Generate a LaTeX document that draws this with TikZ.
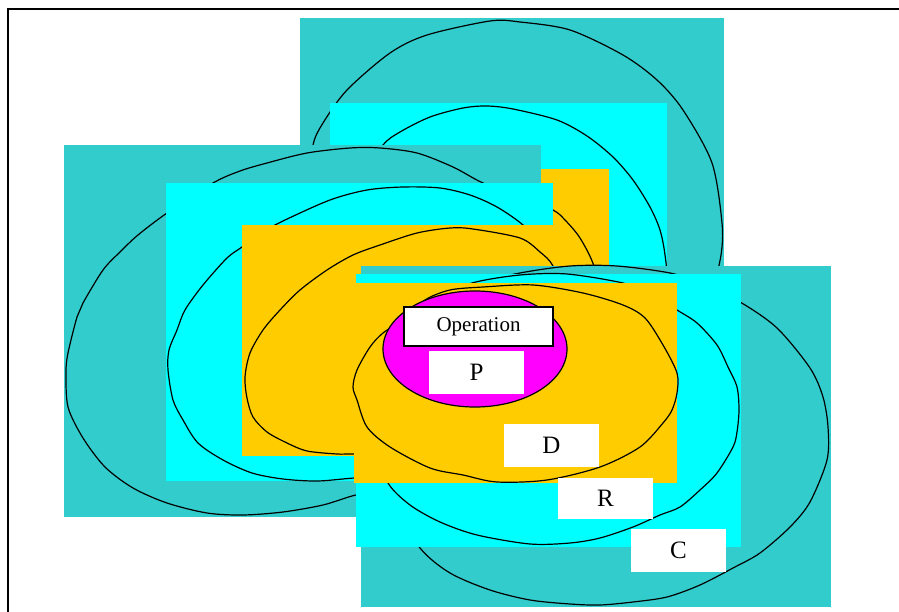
\documentclass[tikz,border=0pt]{standalone}
\usepackage{fontspec}
\setmainfont{Liberation Serif}
\usepackage{tikz}
\usetikzlibrary{positioning}
\definecolor{turquesa}{HTML}{33CCCC}
\definecolor{celeste}{HTML}{00FFFF}
\definecolor{ambar}{HTML}{FFCC00}
\definecolor{fucsia}{HTML}{FF00FF}

\begin{document}
\begin{tikzpicture}[
  x=1pt, y=-1pt,
  contorno/.style={draw=black, line width=1.2pt, line join=round},
  marco/.style={draw=black, line width=2pt},
  etiqueta/.style={rectangle, fill=white, minimum width=95pt, minimum height=43pt, inner sep=0pt, font=\fontsize{25}{25}\selectfont},
  operacion/.style={etiqueta, draw=black, line width=2pt, minimum width=149pt, minimum height=39pt, font=\fontsize{21}{21}\selectfont}
]
\useasboundingbox (0,0) rectangle (899,612);
\fill[white] (0,0) rectangle (899,612);
\draw[marco] (8,612) -- (8,9) -- (899,9);
\fill[turquesa] (300,18) rectangle (724,300);
\draw[contorno] plot[smooth cycle] coordinates {(313,145) (323,123) (347,90) (390,53) (427,35) (490,21) (520,22) (570,30) (623,55) (657,80) (683,110) (712,163) (722,223) (721,255) (712,290) (690,350) (640,410) (560,450) (470,455) (390,420) (335,350) (310,260) (308,190)};
\fill[celeste] (330,103) rectangle (667,300);
\draw[contorno] plot[smooth cycle] coordinates {(383,145) (400,132) (430,117) (463,108) (487,106) (513,109) (557,120) (587,136) (613,157) (633,180) (650,207) (660,230) (665,255) (666,280) (655,340) (610,400) (540,440) (460,440) (390,400) (350,330) (345,250) (360,180)};
\fill[ambar] (400,169) rectangle (609,300);
\fill[turquesa] (64,145) rectangle (541,517);
\draw[contorno] plot[smooth cycle] coordinates {(66,372) (68,353) (77,317) (83,303) (103,270) (120,252) (138,235) (167,213) (213,183) (240,171) (267,163) (307,153) (350,148) (380,148) (417,153) (453,167) (483,183) (520,196) (553,210) (565,220) (580,238) (594,266) (605,310) (603,370) (580,430) (530,470) (450,492) (380,494) (356,495) (323,505) (283,512) (243,515) (207,513) (167,503) (133,488) (105,467) (83,438) (68,407)};
\fill[celeste] (166,183) rectangle (553,481);
\draw[contorno] plot[smooth cycle] coordinates {(168,370) (169,350) (177,330) (185,310) (203,285) (227,258) (242,247) (257,235) (283,221) (330,200) (367,190) (403,187) (440,188) (470,195) (497,207) (523,225) (540,245) (550,275) (552,320) (540,380) (500,440) (430,472) (354,478) (317,481) (283,479) (252,473) (223,460) (198,443) (183,420) (173,400)};
\fill[ambar] (242,225) rectangle (553,456);
\draw[contorno] plot[smooth cycle] coordinates {(245,377) (250,353) (263,330) (280,310) (300,290) (327,270) (353,255) (380,245) (417,233) (450,228) (473,229) (520,238) (540,252) (553,266) (565,300) (565,360) (540,410) (480,445) (420,455) (354,454) (337,454) (307,451) (287,443) (267,432) (253,417) (247,398)};
\fill[turquesa] (361,266) rectangle (831,607);
\draw[contorno] plot[smooth cycle] coordinates {(420,548) (450,573) (490,590) (530,600) (570,604) (600,605) (633,602) (667,597) (700,585) (733,568) (760,553) (790,527) (810,502) (827,460) (828,427) (823,397) (810,368) (777,328) (740,302) (700,283) (670,273) (617,266) (570,266) (520,273) (470,285) (420,310) (385,360) (375,430) (390,500)};
\fill[celeste] (356,274) rectangle (741,547);
\draw[contorno] plot[smooth cycle] coordinates {(388,483) (410,505) (440,522) (477,535) (530,544) (570,543) (600,538) (633,527) (660,515) (680,507) (700,490) (717,473) (733,447) (737,432) (739,410) (737,387) (728,367) (717,345) (697,323) (677,310) (650,293) (623,283) (567,274) (520,275) (472,283) (430,300) (395,340) (375,400) (378,450)};
\fill[ambar] (354,283) rectangle (677,483);
\draw[contorno] plot[smooth cycle] coordinates {(353,387) (357,370) (370,347) (383,333) (403,320) (425,300) (450,290) (483,287) (533,285) (583,293) (623,305) (645,318) (663,345) (677,373) (677,393) (672,410) (663,423) (640,447) (600,467) (547,480) (497,482) (463,475) (430,468) (390,447) (367,427) (357,400)};
\filldraw[fill=fucsia, draw=black, line width=1.2pt] (475,349) ellipse [x radius=92pt, y radius=58pt];
\node[operacion] (oper) at (478.5,326.5) {Operation};
\node[etiqueta] (p) at (476.5,372.5) {P};
\node[etiqueta] (d) at (551.5,445.5) {D};
\node[etiqueta, minimum height=41pt] (r) at (605.5,498.5) {R};
\node[etiqueta] (c) at (678.5,550.5) {C};
\end{tikzpicture}
\end{document}
